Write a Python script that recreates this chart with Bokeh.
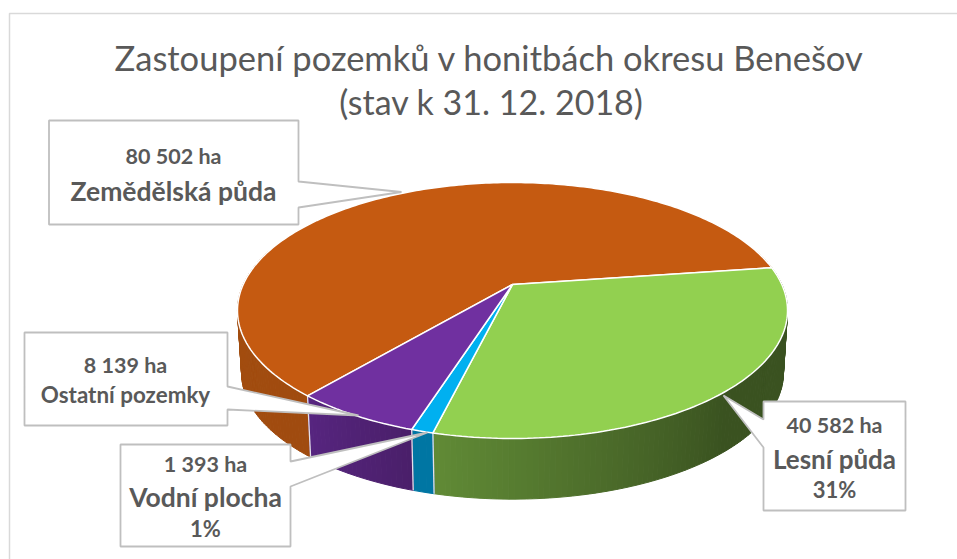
import numpy as np
from bokeh.plotting import figure
from bokeh.models import ColumnDataSource
from bokeh.core.properties import value
from bokeh.embed import file_html
from bokeh.resources import INLINE

# ---- data
categories = ["Zemědělská půda", "Lesní půda", "Vodní plocha", "Ostatní pozemky"]
hectares = [80502, 40582, 1393, 8139]
title_lines = ["Zastoupení pozemků v honitbách okresu Benešov", "(stav k 31. 12. 2018)"]
label_ha = ["80 502 ha", "40 582 ha", "1 393 ha", "8 139 ha"]
label_pct = ["", "31%", "1%", ""]

top_colors = ["#C55A11", "#92D050", "#00B0F0", "#7030A0"]

# ---- layout
W, H = 957, 559
CX, CY = 512.0, 284.0          # screen position of the pie's apex
A, B, K = 122.7, 269.3, 0.203  # perspective of the disk
DEPTH, LOW = 63.0, 0.985
FIRST_ANGLE = 230.0            # degrees, slices run clockwise
GREY = "#595959"
FONT = value("Lato")


def project(theta, depth=0.0, scale=1.0):
    u, v = np.cos(theta), np.sin(theta)
    s = 1.0 / (1.0 + K * v)
    return CX + scale * B * u * s, CY + depth - scale * A * v * s


def mix(c1, c2, t):
    a = np.array([int(c1[i:i + 2], 16) for i in (1, 3, 5)], float)
    b = np.array([int(c2[i:i + 2], 16) for i in (1, 3, 5)], float)
    r = a + (b - a) * t
    return "#%02x%02x%02x" % tuple(int(round(x)) for x in r)


side_ramp = {
    0: lambda t: mix("#A04B0F", "#A9510F", min(1, t * 1.5)),
    1: lambda t: "#3A5220" if t < 0.5 else mix("#3A5220", "#618B36", (t - 0.5) / 0.5),
    2: lambda t: "#0076A3",
    3: lambda t: mix("#4A1F6A", "#572580", t),
}

p = figure(width=W, height=H, x_range=(0, W), y_range=(H, 0),
           output_backend="svg", toolbar_location=None, min_border=0)
p.axis.visible = False
p.grid.visible = False
p.outline_line_color = None
p.background_fill_color = "white"

# outer chart frame
p.line([9, 9, W], [H, 13, 13], line_color="#D9D9D9", line_width=1.5)

total = float(sum(hectares))
sweeps = [2 * np.pi * h / total for h in hectares]
starts = np.radians(FIRST_ANGLE) - np.concatenate(([0.0], np.cumsum(sweeps)[:-1]))

# side wall, as thin shaded strips
xs, ys, cols = [], [], []
for i, (st, sw) in enumerate(zip(starts, sweeps)):
    n = max(3, int(np.degrees(sw) / 1.0))
    edges = np.linspace(st, st - sw, n + 1)
    for j in range(n):
        a0, a1 = edges[j], edges[j + 1]
        if np.sin((a0 + a1) / 2) > 0.3:
            continue
        x0, y0 = project(a0)
        x1, y1 = project(a1)
        x2, y2 = project(a1, DEPTH, LOW)
        x3, y3 = project(a0, DEPTH, LOW)
        xs.append([x0, x1, x2, x3])
        ys.append([y0, y1, y2, y3])
        cols.append(side_ramp[i](j / n))
p.patches("xs", "ys", source=ColumnDataSource(dict(xs=xs, ys=ys, c=cols)),
          fill_color="c", line_color="c", line_width=1)

# light seams between the wall pieces
for st in starts:
    if np.sin(st) < 0:
        x0, y0 = project(st)
        x1, y1 = project(st, DEPTH, LOW)
        p.line([x0, x1], [y0, y1], line_color="#E4E0EA", line_width=1.3)

# top faces
fx, fy = [], []
for st, sw in zip(starts, sweeps):
    th = np.linspace(st, st - sw, max(4, int(np.degrees(sw))))
    x, y = project(th)
    fx.append([CX, *x])
    fy.append([CY, *y])
p.patches("xs", "ys", source=ColumnDataSource(dict(xs=fx, ys=fy, c=top_colors)),
          fill_color="c", line_color="white", line_width=1.5)

# call-outs: box left, right, top, bottom, tail start y, tail tip, tail end y
callouts = [
    (48.5, 298, 120, 224, 181, (401, 191.5), 207),
    (763, 905, 401, 510, 419, (723, 395), 447),
    (120, 290, 444, 546, 461, (427, 432), 486),
    (24, 227, 332, 425, 386, (358, 415), 409),
]
for l, r, t, b, y0, tip, y1 in callouts:
    if tip[0] > r:
        bx = [l, r, r, tip[0], r, r, l]
        by = [t, t, y0, tip[1], y1, b, b]
    else:
        bx = [l, r, r, l, l, tip[0], l]
        by = [t, t, b, b, y1, tip[1], y0]
    p.patch(bx, by, fill_color="white", line_color="#BFBFBF", line_width=1.8)


def put(x, y, s, size, bold=True, color=GREY):
    p.text([x], [y], text=[s], text_font=FONT, text_font_size=f"{size}px",
           text_font_style="bold" if bold else "normal", text_color=color,
           text_align="center", text_baseline="middle")


put(489, 57, title_lines[0], 34.5, False)
put(491, 101, title_lines[1], 34, False)

put(173, 155.5, label_ha[0], 21.5)
put(173, 190.5, categories[0], 26.5)
put(834, 424.5, label_ha[1], 21.5)
put(834, 458.5, categories[1], 26)
put(834, 488.5, label_pct[1], 22)
put(205, 463.5, label_ha[2], 21.5)
put(205, 496.5, categories[2], 26.5)
put(205, 527.5, label_pct[2], 22)
put(125, 364.5, label_ha[3], 21.5)
put(125, 393.5, categories[3], 22.4)

open("out.html", "w").write(file_html(p, INLINE))
